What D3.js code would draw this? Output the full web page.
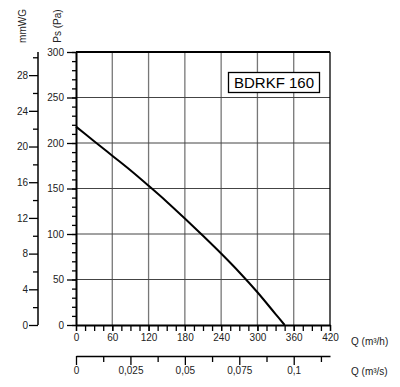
<!DOCTYPE html>
<html>
<head>
<meta charset="utf-8">
<script src="https://cdn.jsdelivr.net/npm/d3@7"></script>
<style>
  body { margin: 0; background: #fff; }
  svg { display: block; font-family: 'Liberation Sans', Arial, sans-serif; }
</style>
</head>
<body>
<script>
// curve: Q in m3/h, Ps in Pa
const flowQ = [0, 30, 60, 90, 120, 150, 180, 210, 240, 270, 300, 330, 345]
const pressurePs = [218, 202, 186, 170, 153, 135.5, 117, 98, 78.5, 58, 36, 12, 0]

const qTicks = [0, 60, 120, 180, 240, 300, 360, 420]
const psTicks = [0, 50, 100, 150, 200, 250, 300]
const mmTicks = [0, 4, 8, 12, 16, 20, 24, 28]
const qsTicks = [0, 0.025, 0.05, 0.075, 0.1]
const title = 'BDRKF 160'

const width = 400
const height = 387
const plotL = 76, plotR = 330, plotT = 52, plotB = 325

const x = d3.scaleLinear().domain([0, 420]).range([plotL, plotR])
const y = d3.scaleLinear().domain([0, 300]).range([plotB, plotT])
const yMm = d3.scaleLinear().domain([0, 300 / 9.80665]).range([plotB, plotT])
const xS = d3.scaleLinear().domain([0, 420 / 3600]).range([plotL, plotR])

const svg = d3.select('body').append('svg')
    .attr('width', width)
    .attr('height', height)

// grid
svg.append('g')
    .selectAll('line')
    .data(qTicks.slice(1, -1))
    .enter().append('line')
    .attr('x1', d => x(d)).attr('x2', d => x(d))
    .attr('y1', plotT).attr('y2', plotB)
    .attr('stroke', '#777').attr('stroke-width', 1.3)

svg.append('g')
    .selectAll('line')
    .data(psTicks.slice(1, -1))
    .enter().append('line')
    .attr('x1', plotL).attr('x2', plotR)
    .attr('y1', d => y(d)).attr('y2', d => y(d))
    .attr('stroke', '#444').attr('stroke-width', 1)

// frame
svg.append('line').attr('x1', plotL).attr('x2', plotR).attr('y1', plotT).attr('y2', plotT)
    .attr('stroke', '#000').attr('stroke-width', 2)
svg.append('line').attr('x1', plotR).attr('x2', plotR).attr('y1', plotT).attr('y2', plotB)
    .attr('stroke', '#000').attr('stroke-width', 1.3)

const styleAxis = (g, w) => {
    g.select('.domain').attr('stroke', '#000').attr('stroke-width', w)
    g.selectAll('.tick line').attr('stroke', '#000').attr('stroke-width', 1.3)
    g.selectAll('.tick text').attr('fill', '#222').style('font-size', '10px')
        .style('font-family', "'Liberation Sans', Arial, sans-serif")
}

// Pa axis
svg.append('g')
    .attr('transform', `translate(${plotL},0)`)
    .call(d3.axisLeft(y).tickValues(d3.range(0, 301, 10)).tickSize(4).tickFormat(''))
    .call(g => g.select('.domain').remove())
    .call(g => g.selectAll('line').attr('stroke', '#000').attr('stroke-width', 1.3))
svg.append('g')
    .attr('transform', `translate(${plotL},0)`)
    .call(d3.axisLeft(y).tickValues(psTicks).tickSize(9).tickSizeOuter(0).tickPadding(3))
    .call(g => styleAxis(g, 2))

// mmWG axis
svg.append('g')
    .attr('transform', 'translate(38,0)')
    .call(d3.axisLeft(yMm).tickValues(d3.range(2, 31, 4)).tickSize(5).tickFormat(''))
    .call(g => g.select('.domain').remove())
    .call(g => g.selectAll('line').attr('stroke', '#000').attr('stroke-width', 1.3))
svg.append('g')
    .attr('transform', 'translate(38,0)')
    .call(d3.axisLeft(yMm).tickValues(mmTicks).tickSize(9).tickSizeOuter(0).tickPadding(1))
    .call(g => g.select('.domain').attr('d', `M0,${plotT}V${plotB}`))
    .call(g => styleAxis(g, 1.5))

// Q m3/h axis
svg.append('g')
    .attr('transform', `translate(0,${plotB})`)
    .call(d3.axisBottom(x).tickValues(d3.range(0, 421, 15)).tickSize(6).tickFormat(''))
    .call(g => g.select('.domain').remove())
    .call(g => g.selectAll('line').attr('stroke', '#000').attr('stroke-width', 1.3))
svg.append('g')
    .attr('transform', `translate(0,${plotB})`)
    .call(d3.axisBottom(x).tickValues(qTicks).tickSize(6).tickSizeOuter(0).tickPadding(3))
    .call(g => styleAxis(g, 2))

// Q m3/s axis
const fmtComma = d => String(d).replace('.', ',')
svg.append('g')
    .attr('transform', 'translate(0,356)')
    .call(d3.axisBottom(xS).tickValues([0.0125, 0.0375, 0.0625, 0.0875, 0.1125]).tickSize(6).tickFormat(''))
    .call(g => g.select('.domain').remove())
    .call(g => g.selectAll('line').attr('stroke', '#000').attr('stroke-width', 1.3))
svg.append('g')
    .attr('transform', 'translate(0,356)')
    .call(d3.axisBottom(xS).tickValues(qsTicks).tickSize(9).tickSizeOuter(0).tickPadding(2).tickFormat(fmtComma))
    .call(g => styleAxis(g, 1.5))

// curve
const line = d3.line()
    .x((d, i) => x(flowQ[i]))
    .y(d => y(d))
    .curve(d3.curveMonotoneX)

svg.append('path')
    .datum(pressurePs)
    .attr('d', line)
    .attr('fill', 'none')
    .attr('stroke', '#000')
    .attr('stroke-width', 2)

// title box
svg.append('rect')
    .attr('x', 228.5).attr('y', 72.5)
    .attr('width', 91).attr('height', 20)
    .attr('fill', '#fff').attr('stroke', '#000').attr('stroke-width', 1.3)
svg.append('text')
    .attr('x', 274).attr('y', 88)
    .attr('text-anchor', 'middle')
    .style('font-size', '15px')
    .text(title)

// axis titles
const label = (tx, ty, rot, txt, anchor) => svg.append('text')
    .attr('transform', `translate(${tx},${ty}) rotate(${rot})`)
    .attr('text-anchor', anchor)
    .style('font-size', '10px')
    .attr('fill', '#222')
    .text(txt)

label(26, 26, -90, 'mmWG', 'middle')
label(61, 26, -90, 'Ps (Pa)', 'middle')
label(351, 345, 0, 'Q (m³/h)', 'start')
label(351, 375, 0, 'Q (m³/s)', 'start')
</script>
</body>
</html>
